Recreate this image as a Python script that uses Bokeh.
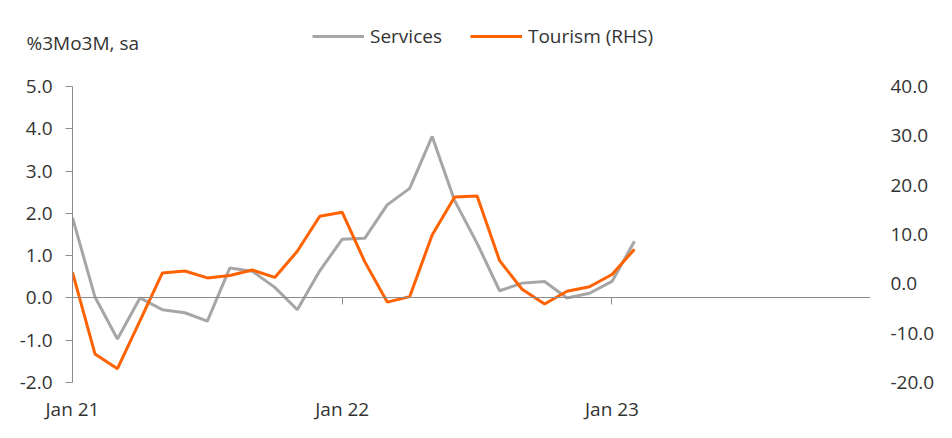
from bokeh.plotting import figure
from bokeh.models import (Range1d, LinearAxis, FixedTicker, Legend, LegendItem,
                          NumeralTickFormatter)
from bokeh.embed import file_html
from bokeh.resources import INLINE

# monthly data, Jan 21 - Feb 23
months = ["Jan 21", "Feb 21", "Mar 21", "Apr 21", "May 21", "Jun 21", "Jul 21",
          "Aug 21", "Sep 21", "Oct 21", "Nov 21", "Dec 21",
          "Jan 22", "Feb 22", "Mar 22", "Apr 22", "May 22", "Jun 22", "Jul 22",
          "Aug 22", "Sep 22", "Oct 22", "Nov 22", "Dec 22",
          "Jan 23", "Feb 23"]
services = [1.90, 0.02, -0.97, 0.00, -0.28, -0.35, -0.55, 0.71, 0.63, 0.25, -0.28, 0.64,
            1.39, 1.41, 2.20, 2.59, 3.82, 2.30, 1.29, 0.17, 0.35, 0.39, 0.00, 0.11,
            0.39, 1.34]
tourism = [2.3, -14.2, -17.2, -7.5, 2.2, 2.6, 1.2, 1.7, 2.8, 1.3, 6.6, 13.7,
           14.5, 4.5, -3.7, -2.6, 9.9, 17.6, 17.8, 4.7, -1.1, -4.1, -1.5, -0.6,
           1.9, 7.0]
tick_labels = ["Jan 21", "Jan 22", "Jan 23"]
left_ticks = [-2, -1, 0, 1, 2, 3, 4, 5]
right_ticks = [-20, -10, 0, 10, 20, 30, 40]

FONT = "Open Sans"
TEXT = "#333333"
AXIS = "#8c8c8c"
GREY = "#a6a6a6"
ORANGE = "#ff6200"

x = list(range(len(months)))
tick_pos = [months.index(t) for t in tick_labels]

# frame runs up to the top so the legend can sit inside it; axes are bounded
TOP, AXIS_TOP, AXIS_BOTTOM = 20, 86, 382
px_per_unit = (AXIS_BOTTOM - AXIS_TOP) / (left_ticks[-1] - left_ticks[0])
l_top = left_ticks[-1] + (AXIS_TOP - TOP) / px_per_unit
scale = (right_ticks[-1] - right_ticks[0]) / (left_ticks[-1] - left_ticks[0])
r_top = right_ticks[0] + (l_top - left_ticks[0]) * scale

p = figure(width=944, height=430, x_range=Range1d(0, 35.5),
           y_range=Range1d(left_ticks[0], l_top),
           output_backend="svg", toolbar_location=None, title="%3Mo3M, sa",
           min_border_left=72, min_border_right=74, min_border_top=TOP,
           min_border_bottom=48)
p.extra_y_ranges = {"rhs": Range1d(right_ticks[0], r_top)}
p.outline_line_color = None
p.grid.visible = False

p.title.text_font = FONT
p.title.text_font_size = "19px"
p.title.text_font_style = "normal"
p.title.text_color = TEXT
p.title.align = "left"
p.title.offset = -46
p.title.standoff = -70

# left axis
yax = p.yaxis[0]
yax.ticker = FixedTicker(ticks=left_ticks)
yax.bounds = (left_ticks[0], left_ticks[-1])
yax.formatter = NumeralTickFormatter(format="0.0")
yax.major_tick_out = 7
yax.major_tick_in = 0
yax.minor_tick_line_color = None
yax.axis_line_color = AXIS
yax.major_tick_line_color = AXIS
yax.major_label_standoff = 13

# right axis, no line
rax = LinearAxis(y_range_name="rhs", ticker=FixedTicker(ticks=right_ticks),
                 formatter=NumeralTickFormatter(format="0.0"))
rax.axis_line_color = None
rax.major_tick_line_color = None
rax.minor_tick_line_color = None
rax.major_tick_out = 0
rax.major_label_standoff = 20
p.add_layout(rax, "right")

# bottom axis: labels only
xax = p.xaxis[0]
xax.ticker = FixedTicker(ticks=tick_pos)
xax.major_label_overrides = {i: t for i, t in zip(tick_pos, tick_labels)}
xax.axis_line_color = None
xax.major_tick_line_color = None
xax.minor_tick_line_color = None
xax.major_tick_out = 0
xax.major_label_standoff = 13

# zero line with tick marks
zax = LinearAxis(fixed_location=0, ticker=FixedTicker(ticks=tick_pos))
zax.axis_line_color = AXIS
zax.major_tick_line_color = AXIS
zax.minor_tick_line_color = None
zax.major_tick_out = 7
zax.major_tick_in = 0
zax.major_label_text_font_size = "0px"
zax.major_label_standoff = 0
p.add_layout(zax, "below")

for ax in (yax, rax, xax):
    ax.major_label_text_font = FONT
    ax.major_label_text_font_size = "19px"
    ax.major_label_text_color = TEXT

r1 = p.line(x, services, line_color=GREY, line_width=3)
r2 = p.line(x, tourism, line_color=ORANGE, line_width=3, y_range_name="rhs")

legend = Legend(items=[LegendItem(label="Services", renderers=[r1]),
                       LegendItem(label="Tourism (RHS)", renderers=[r2])],
                orientation="horizontal", location=(240, 333))
legend.border_line_color = None
legend.background_fill_alpha = 0
legend.padding = 0
legend.margin = 0
legend.spacing = 28
legend.glyph_width = 52
legend.glyph_height = 20
legend.label_standoff = 6
legend.label_text_font = FONT
legend.label_text_font_size = "19px"
legend.label_text_color = TEXT
p.add_layout(legend, "center")

open("out.html", "w").write(file_html(p, INLINE))
